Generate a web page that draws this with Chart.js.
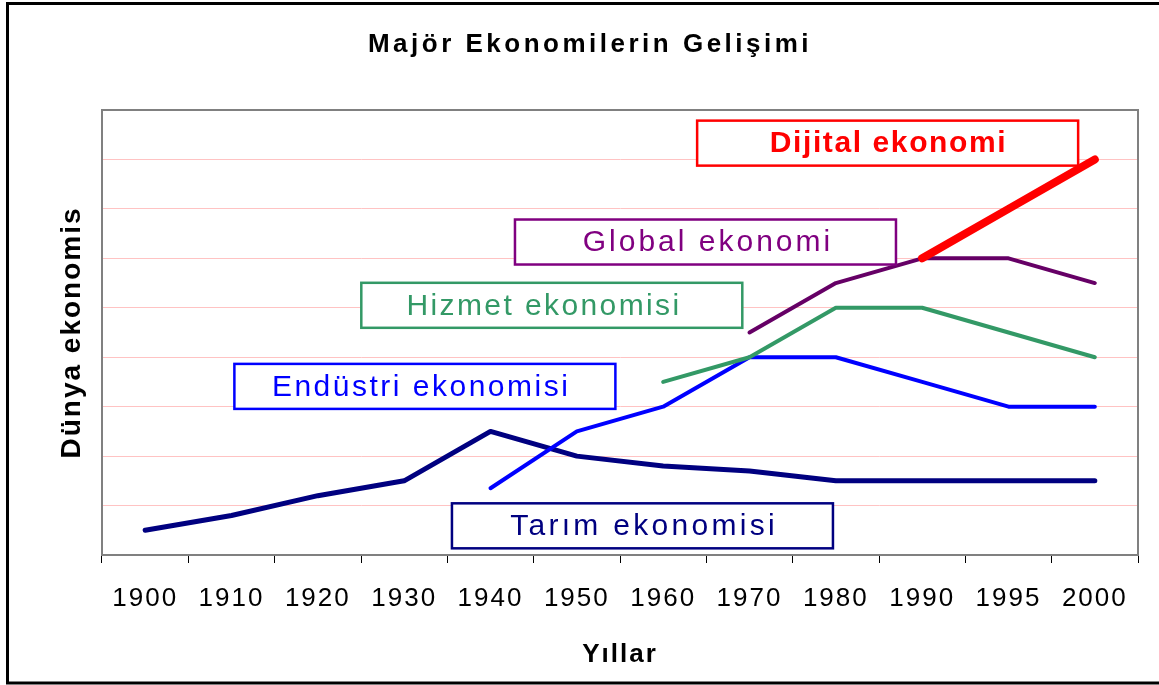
<!DOCTYPE html>
<html>
<head>
<meta charset="utf-8">
<script src="https://cdn.jsdelivr.net/npm/chart.js@4/dist/chart.umd.min.js"></script>
<style>
  html, body { margin: 0; padding: 0; background: #fff; }
  #wrap { position: relative; width: 1159px; height: 685px; }
</style>
</head>
<body>
<div id="wrap"><canvas id="chart" width="1159" height="685"></canvas></div>
<script>
"use strict";

// years on the x axis
var years = ["1900", "1910", "1920", "1930", "1940", "1950", "1960", "1970", "1980", "1990", "1995", "2000"];

// series values (null = series not yet started)
var tarim    = [0.5, 0.8, 1.2, 1.5, 2.5, 2.0, 1.8, 1.7, 1.5, 1.5, 1.5, 1.5];
var endustri = [null, null, null, null, 1.35, 2.5, 3.0, 4.0, 4.0, 3.5, 3.0, 3.0];
var hizmet   = [null, null, null, null, null, null, 3.5, 4.0, 5.0, 5.0, 4.5, 4.0];
var globalEk = [null, null, null, null, null, null, null, 4.5, 5.5, 6.0, 6.0, 5.5];
var dijital  = [null, null, null, null, null, null, null, null, null, 6.0, 7.0, 8.0];

// boxed series names
var boxTexts = ["Dijital ekonomi", "Global ekonomi", "Hizmet ekonomisi", "Endüstri ekonomisi", "Tarım ekonomisi"];

var chartTitle = "Majör Ekonomilerin Gelişimi";

var fontFamily = "'Liberation Sans', Arial, sans-serif";
Chart.defaults.font.family = fontFamily;
Chart.defaults.color = "#000";

// box centres in data units (category index, value) and look
var boxAnchors = [
    { x: 8.60, y: 8.33, color: "#FF0000", bold: true,  spacing: 1.6, dx: 0 },
    { x: 6.49, y: 6.33, color: "#800080", bold: false, spacing: 3.0, dx: 1 },
    { x: 4.71, y: 5.05, color: "#339966", bold: false, spacing: 2.4, dx: -9 },
    { x: 3.24, y: 3.41, color: "#0000FF", bold: false, spacing: 2.5, dx: -5 },
    { x: 5.76, y: 0.59, color: "#000080", bold: false, spacing: 3.3, dx: 0 }
];

var framePlugin = {
    id: "frame",
    beforeDraw: function (chart) {
        var ctx = chart.ctx;
        ctx.letterSpacing = "2px";
        ctx.save();
        ctx.strokeStyle = "#000";
        ctx.lineWidth = 3;
        ctx.strokeRect(7.5, 3.5, 1165, 679.5);
        ctx.restore();
    },
    beforeDatasetsDraw: function (chart) {
        var a = chart.chartArea;
        var ctx = chart.ctx;
        ctx.save();
        ctx.strokeStyle = "#808080";
        ctx.lineWidth = 2;
        ctx.strokeRect(a.left, a.top, a.right - a.left, a.bottom - a.top);
        ctx.restore();
    },
    afterDatasetsDraw: function (chart) {
        var ctx = chart.ctx;
        var xs = chart.scales.x;
        var ys = chart.scales.y;
        var w = 381, h = 45;
        ctx.save();
        ctx.textAlign = "center";
        ctx.textBaseline = "middle";
        for (var i = 0; i < boxTexts.length; i++) {
            var b = boxAnchors[i];
            var cx = xs.getPixelForValue(b.x);
            var cy = ys.getPixelForValue(b.y);
            ctx.fillStyle = "#fff";
            ctx.fillRect(cx - w / 2, cy - h / 2, w, h);
            ctx.strokeStyle = b.color;
            ctx.lineWidth = 2.5;
            ctx.strokeRect(cx - w / 2, cy - h / 2, w, h);
            ctx.fillStyle = b.color;
            ctx.letterSpacing = b.spacing + "px";
            ctx.font = (b.bold ? "bold " : "") + "30px " + fontFamily;
            ctx.fillText(boxTexts[i], cx + b.dx + b.spacing / 2, cy + 1);
        }
        ctx.restore();
    },
    afterDraw: function (chart) {
        var ctx = chart.ctx;
        ctx.save();
        ctx.letterSpacing = "3.5px";
        ctx.font = "bold 26px " + fontFamily;
        ctx.fillStyle = "#000";
        ctx.textAlign = "center";
        ctx.textBaseline = "middle";
        ctx.fillText(chartTitle, 590, 45);
        ctx.restore();
    }
};

function lineSet(label, data, color, width) {
    return {
        label: label,
        data: data,
        borderColor: color,
        backgroundColor: color,
        borderWidth: width,
        borderCapStyle: "round",
        borderJoinStyle: "round",
        pointRadius: 0,
        pointHoverRadius: 0,
        tension: 0,
        spanGaps: false
    };
}

var ctx0 = document.getElementById("chart");
var myChart = new Chart(ctx0, {
    type: "line",
    data: {
        labels: years,
        datasets: [
            lineSet("Dijital ekonomi", dijital, "#FF0000", 8),
            lineSet("Global ekonomi", globalEk, "#660066", 4),
            lineSet("Hizmet ekonomisi", hizmet, "#339966", 4),
            lineSet("Endüstri ekonomisi", endustri, "#0000FF", 4),
            lineSet("Tarım ekonomisi", tarim, "#000080", 5)
        ]
    },
    options: {
        responsive: false,
        animation: false,
        events: [],
        layout: { padding: { left: 0, top: 110, right: 21, bottom: 0 } },
        plugins: {
            legend: { display: false },
            tooltip: { enabled: false },
            title: { display: false }
        },
        scales: {
            x: {
                offset: true,
                afterFit: function (scale) { scale.height = 130; },
                grid: {
                    offset: true,
                    drawOnChartArea: false,
                    drawTicks: true,
                    tickLength: 8,
                    tickColor: "#000",
                    tickWidth: 1
                },
                border: { color: "#808080", width: 2 },
                ticks: {
                    color: "#000",
                    font: { size: 26 },
                    padding: 20,
                    maxRotation: 0,
                    autoSkip: false
                },
                title: {
                    display: true,
                    text: "Yıllar",
                    color: "#000",
                    font: { size: 26, weight: "bold" },
                    padding: { top: 0, bottom: 15 }
                }
            },
            y: {
                min: 0,
                max: 9,
                afterFit: function (scale) { scale.width = 102; },
                ticks: { display: false, stepSize: 1 },
                grid: { color: "rgb(255,195,195)", lineWidth: 1, drawTicks: false },
                border: { color: "#808080", width: 2 },
                title: {
                    display: true,
                    text: "Dünya ekonomis",
                    color: "#000",
                    font: { size: 28, weight: "bold" },
                    padding: { top: 55, bottom: 0 }
                }
            }
        }
    },
    plugins: [framePlugin]
});
</script>
</body>
</html>
